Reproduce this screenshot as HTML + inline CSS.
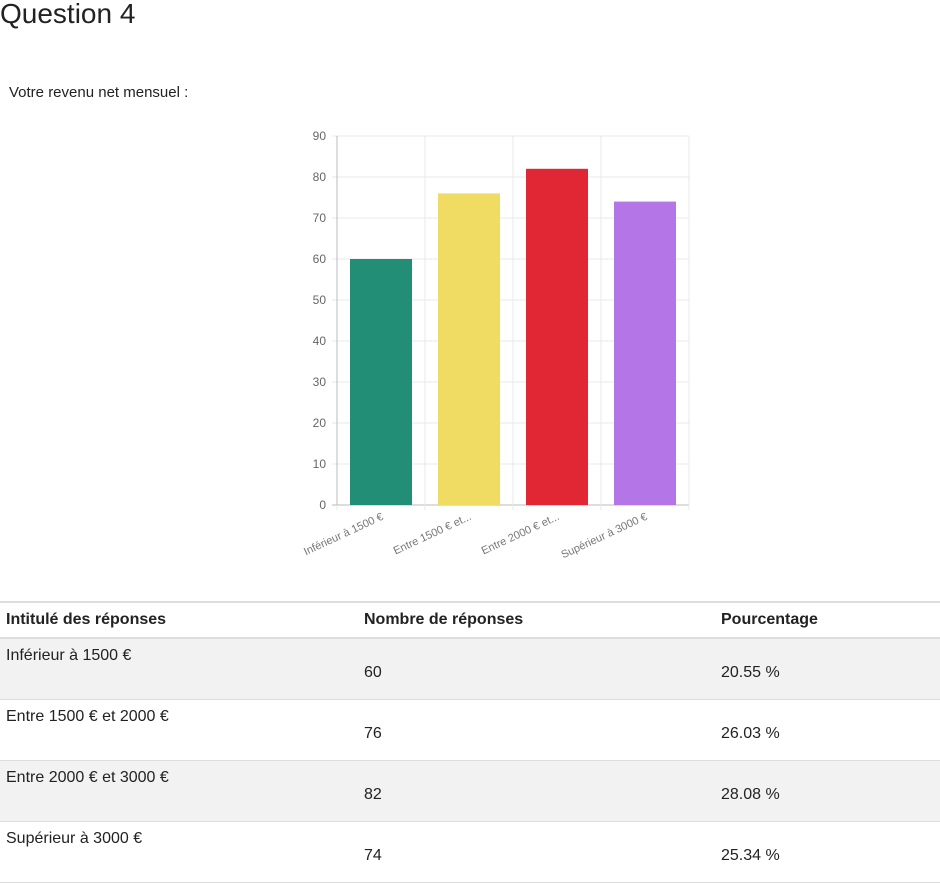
<!DOCTYPE html>
<html><head><meta charset="utf-8"><style>
body{margin:0;width:940px;height:831px;background:#fff;font-family:"Liberation Sans",sans-serif;color:#222;overflow:hidden;position:relative}
h1{position:absolute;left:0;top:-2px;margin:0;font-weight:normal;font-size:28px;color:#222}
.sub{position:absolute;left:9px;top:84px;font-size:15px}
svg{position:absolute;left:0;top:0}
table{position:absolute;left:0;top:601px;width:940px;border-collapse:collapse;font-size:16px}
th{text-align:left;height:34px;border-top:2px solid #ddd;border-bottom:2px solid #ddd;padding:0 6px;font-weight:bold}
td{height:52px;border-bottom:1px solid #ddd;padding:0 6px;vertical-align:top}
td.v{vertical-align:middle;padding-top:8px}
tr.odd td{background:#f2f2f2}
</style></head><body>
<h1>Question 4</h1>
<div class="sub">Votre revenu net mensuel :</div>
<svg id="chart" width="940" height="600"></svg>
<table>
<tr><th style="width:346px">Intitulé des réponses</th><th style="width:345px">Nombre de réponses</th><th>Pourcentage</th></tr>
<tr class="odd"><td style="padding-top:8px">Inférieur à 1500 €</td><td class="v">60</td><td class="v">20.55 %</td></tr>
<tr><td style="padding-top:8px">Entre 1500 € et 2000 €</td><td class="v">76</td><td class="v">26.03 %</td></tr>
<tr class="odd"><td style="padding-top:8px">Entre 2000 € et 3000 €</td><td class="v">82</td><td class="v">28.08 %</td></tr>
<tr><td style="padding-top:8px">Supérieur à 3000 €</td><td class="v">74</td><td class="v">25.34 %</td></tr>
</table>
<script>
const categories=["Inférieur à 1500 €","Entre 1500 € et...","Entre 2000 € et...","Supérieur à 3000 €"];
const values=[60,76,82,74];
const colors=["#238e76","#f0dc63","#e12733","#b476e6"];
const yTicks=[0,10,20,30,40,50,60,70,80,90];
const svg=document.getElementById('chart');
const NS="http://www.w3.org/2000/svg";
const x0=337,x1=689,y0=505,y1=136,yMax=90;
const y=v=>y0-(v/yMax)*(y0-y1);
const cw=(x1-x0)/categories.length;
function mk(t,a){const e=document.createElementNS(NS,t);for(const k in a)e.setAttribute(k,a[k]);svg.appendChild(e);return e;}
yTicks.forEach(t=>{
  const l=mk('line',{x1:x0-5,x2:x1,y1:y(t),y2:y(t),stroke:t===0?'#bbb':'#e8e8e8'});
  
  
  const tx=mk('text',{x:x0-11,y:y(t)+4,'text-anchor':'end','font-size':12,fill:'#666','font-family':'Liberation Sans'});
  tx.textContent=t;
  
  
});
for(let i=0;i<=categories.length;i++){
  const l=mk('line',{x1:x0+i*cw,x2:x0+i*cw,y1:y1,y2:y0+5,stroke:'#e8e8e8'});
  
  
}
categories.forEach((c,i)=>{
  const cx=x0+cw*(i+0.5),bw=62;
  const r=mk('rect',{x:cx-bw/2,y:y(values[i]),width:bw,height:y0-y(values[i]),fill:colors[i]});
  
  
  const t=mk('text',{x:cx+3,y:y0+14,'text-anchor':'end','font-size':11,fill:'#777','font-family':'Liberation Sans',transform:`rotate(-25 ${cx+3} ${y0+14})`});
  t.textContent=c;
  
  
});
mk('line',{x1:x0,x2:x0,y1:y1,y2:y0,stroke:'#bbb'});
</script>
</body></html>
